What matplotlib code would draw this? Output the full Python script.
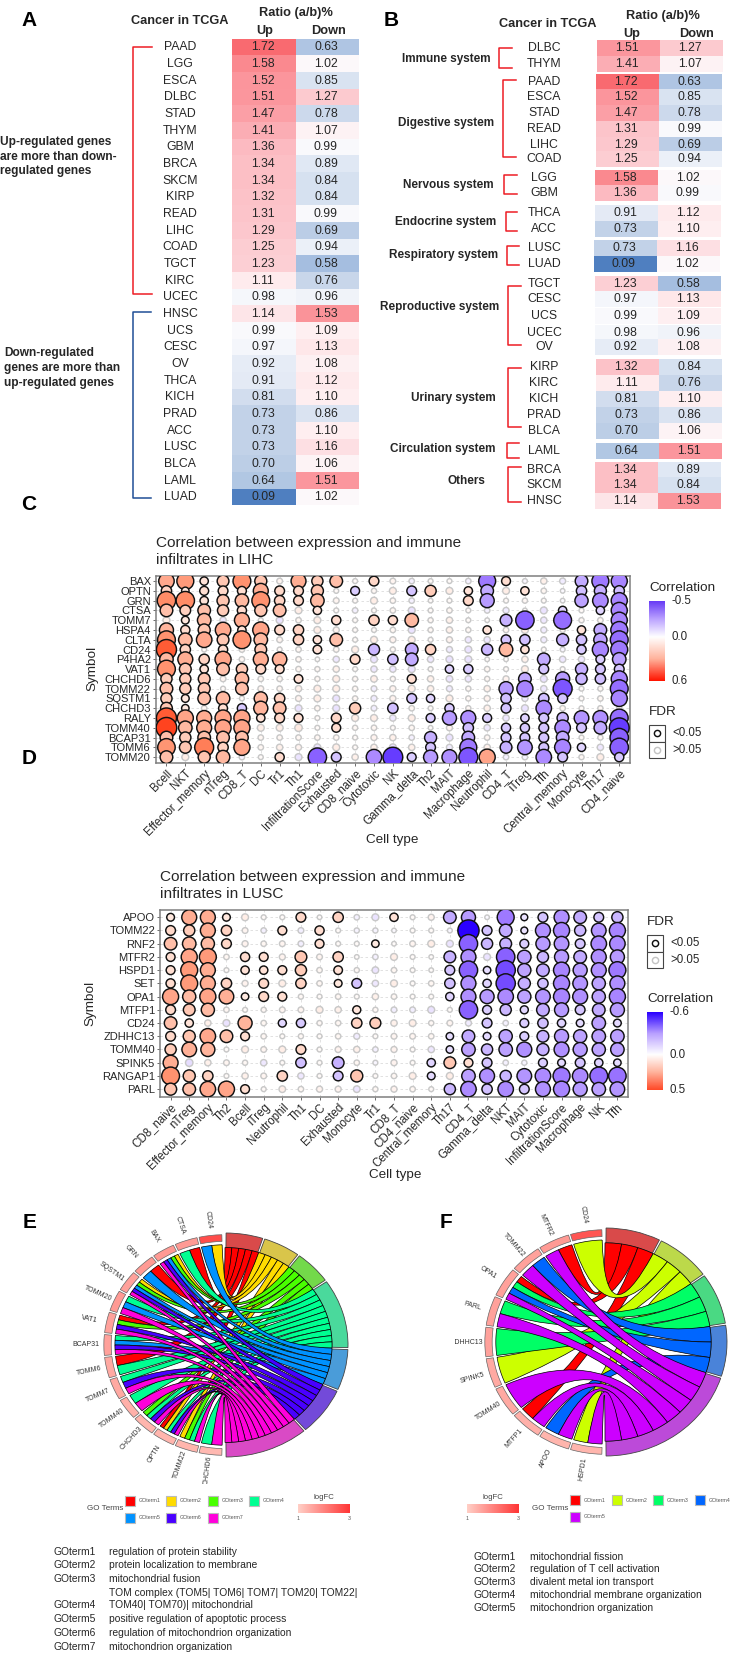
import numpy as np
import matplotlib
matplotlib.use("Agg")
import matplotlib.pyplot as plt
from matplotlib.colors import LinearSegmentedColormap, Normalize
from matplotlib.patches import PathPatch, Rectangle, Wedge
from matplotlib.path import Path

plt.rcParams['font.family'] = ['Liberation Sans', 'DejaVu Sans']

W, H = 733, 1653

# Panel A: ratio table
a_names = ["PAAD", "LGG", "ESCA", "DLBC", "STAD", "THYM", "GBM", "BRCA", "SKCM", "KIRP", "READ", "LIHC", "COAD", "TGCT",
           "KIRC", "UCEC", "HNSC", "UCS", "CESC", "OV", "THCA", "KICH", "PRAD", "ACC", "LUSC", "BLCA", "LAML", "LUAD"]
a_up = [1.72, 1.58, 1.52, 1.51, 1.47, 1.41, 1.36, 1.34, 1.34, 1.32, 1.31, 1.29, 1.25, 1.23,
        1.11, 0.98, 1.14, 0.99, 0.97, 0.92, 0.91, 0.81, 0.73, 0.73, 0.73, 0.70, 0.64, 0.09]
a_down = [0.63, 1.02, 0.85, 1.27, 0.78, 1.07, 0.99, 0.89, 0.84, 0.84, 0.99, 0.69, 0.94, 0.58,
          0.76, 0.96, 1.53, 1.09, 1.13, 1.08, 1.12, 1.10, 0.86, 1.10, 1.16, 1.06, 1.51, 1.02]

# Panel B: same table grouped by system
b_groups = ["Immune system", "Digestive system", "Nervous system", "Endocrine system", "Respiratory system",
            "Reproductive system", "Urinary system", "Circulation system", "Others"]
b_names = [["DLBC", "THYM"], ["PAAD", "ESCA", "STAD", "READ", "LIHC", "COAD"], ["LGG", "GBM"], ["THCA", "ACC"],
           ["LUSC", "LUAD"], ["TGCT", "CESC", "UCS", "UCEC", "OV"], ["KIRP", "KIRC", "KICH", "PRAD", "BLCA"],
           ["LAML"], ["BRCA", "SKCM", "HNSC"]]
b_up = [[1.51, 1.41], [1.72, 1.52, 1.47, 1.31, 1.29, 1.25], [1.58, 1.36], [0.91, 0.73], [0.73, 0.09],
        [1.23, 0.97, 0.99, 0.98, 0.92], [1.32, 1.11, 0.81, 0.73, 0.70], [0.64], [1.34, 1.34, 1.14]]
b_down = [[1.27, 1.07], [0.63, 0.85, 0.78, 0.99, 0.69, 0.94], [1.02, 0.99], [1.12, 1.10], [1.16, 1.02],
          [0.58, 1.13, 1.09, 0.96, 1.08], [0.84, 0.76, 1.10, 0.86, 1.06], [1.51], [0.89, 0.84, 1.53]]

# Panel C: LIHC immune correlation
c_rows = ["BAX", "OPTN", "GRN", "CTSA", "TOMM7", "HSPA4", "CLTA", "CD24", "P4HA2", "VAT1", "CHCHD6", "TOMM22", "SQSTM1",
          "CHCHD3", "RALY", "TOMM40", "BCAP31", "TOMM6", "TOMM20"]
c_cols = ["Bcell", "NKT", "Effector_memory", "nTreg", "CD8_T", "DC", "Tr1", "Th1", "InfiltrationScore", "Exhausted",
          "CD8_naive", "Cytotoxic", "NK", "Gamma_delta", "Th2", "MAIT", "Macrophage", "Neutrophil", "CD4_T", "iTreg",
          "Tfh", "Central_memory", "Monocyte", "Th17", "CD4_naive"]
c_corr = [
    [.40, .45, .15, .27, .48, .28, .06, .38, .25, .30, .03, .20, .06, -.05, .03, .03, -.05, -.45, .17, -.03, .08, -.07, -.30, -.45, -.42],
    [.22, .12, .17, .20, .17, .38, .20, .20, .28, .03, -.17, .04, .10, -.20, .25, .10, .15, -.30, .10, .15, .05, -.02, -.22, -.28, -.22],
    [.50, .50, .15, .28, .33, .48, .22, .20, .33, .06, .03, .10, .05, -.05, .02, .03, .20, -.35, .03, .04, .03, -.02, -.32, -.40, -.42],
    [.30, .23, .30, .25, .18, .28, .30, .10, .15, .03, -.05, .03, .05, -.10, .03, .05, .03, -.05, -.07, .02, -.10, -.15, .03, -.15, -.42],
    [.10, .13, .33, -.08, .38, .03, -.10, .05, .10, .18, .03, .22, .18, .33, .04, .08, .03, .02, -.27, -.50, -.08, -.48, .04, .05, -.42],
    [.35, .18, .28, .40, .15, .42, .20, .22, .10, .07, .03, .03, .05, -.10, .04, .08, .04, .15, .05, .10, -.07, .04, .15, -.30, -.45],
    [.48, .33, .40, .27, .48, .33, .06, .22, .15, .30, .03, .10, .07, .10, .03, .07, -.08, -.08, -.20, -.22, -.07, -.28, -.22, -.32, -.48],
    [.56, .22, .03, .18, .05, .27, .03, .05, .16, .05, .10, -.25, .04, -.30, .22, -.07, -.10, -.25, .33, .15, .03, -.03, -.18, -.42, -.45],
    [.33, .38, .22, .42, .05, .38, .36, .05, .02, -.08, .20, -.10, -.22, -.30, -.08, -.10, -.10, .02, .02, .08, -.30, -.08, -.08, -.17, -.33],
    [.48, .27, .15, .30, .25, .20, .17, .05, .04, .08, .03, -.08, -.08, -.10, .03, -.15, -.18, .05, .03, .10, -.20, .03, -.28, -.20, -.20],
    [.25, .25, .27, .06, .33, .05, .05, .16, .04, .10, .04, .09, .04, .17, .08, -.09, -.08, .04, .07, -.30, -.10, -.35, -.25, -.22, -.42],
    [.30, .25, .27, .03, .30, .06, .05, .08, .10, .10, .04, -.06, .07, .10, .08, -.07, .04, .08, -.35, -.42, -.08, -.52, .03, .04, -.48],
    [.25, .13, .30, .33, .03, .32, .22, .07, .10, -.10, .04, -.07, .07, -.20, -.15, .10, .04, .07, -.22, -.07, -.22, -.20, .03, .05, -.42],
    [.27, .12, .05, .17, -.18, .35, .30, -.10, .05, -.10, .25, -.06, -.22, .05, .03, -.18, .04, .08, -.20, -.10, -.40, .05, .03, .04, .05],
    [.56, .42, .38, .42, .42, .15, .20, .17, .03, .20, .10, .10, -.08, .10, -.17, -.35, -.38, -.17, -.08, -.15, -.20, -.25, -.37, -.38, -.48],
    [.58, .33, .38, .42, .42, .10, .10, .12, .03, .17, .04, .05, .03, .05, .02, .07, -.22, -.08, -.18, -.18, -.20, -.40, -.20, -.30, -.55],
    [.30, .25, .30, .30, .30, .05, .05, .05, .05, .05, .03, .07, .08, -.05, -.28, -.10, -.30, .05, -.20, -.20, -.20, -.30, .03, .04, -.50],
    [.47, .27, .52, .22, .42, .05, .08, .07, -.10, .10, .03, .08, -.10, .08, -.20, -.07, -.45, .08, -.27, -.37, -.20, -.42, -.15, -.08, -.50],
    [.30, .10, .28, .33, -.05, .03, .18, -.10, -.50, -.20, .08, -.40, -.55, -.17, -.35, -.38, -.52, .42, -.05, -.05, -.40, -.20, .04, .10, -.18],
]
c_sig = ["1111110111010000011000111", "1111111110100110110100111", "1111111110000000110000111", "1111111010000000000001011",
         "0110100001011100001101001", "1111111100000000010000111", "1111110111000000001101111", "1101010010010110011100111",
         "1111011000101100000010011", "1111111000000001100010111", "1110100100000100000101111", "1110100000000000001101001",
         "1111011000000110001011001", "1101111000101001001010000", "1111111101000011110111111", "1111100001000000101111111",
         "1111100000000010101111001", "1111100000000010101111101", "1011001011011111110011001"]

# Panel D: LUSC immune correlation
d_rows = ["APOO", "TOMM22", "RNF2", "MTFR2", "HSPD1", "SET", "OPA1", "MTFP1", "CD24", "ZDHHC13", "TOMM40", "SPINK5", "RANGAP1", "PARL"]
d_cols = ["CD8_naive", "nTreg", "Effector_memory", "Th2", "Bcell", "iTreg", "Neutrophil", "Th1", "DC", "Exhausted", "Monocyte",
          "Tr1", "CD8_T", "CD4_naive", "Central_memory", "Th17", "CD4_T", "Gamma_delta", "NKT", "MAIT", "Cytotoxic",
          "InfiltrationScore", "Macrophage", "NK", "Tfh"]
d_corr = [
    [.13, .38, .38, .13, .10, .03, .03, .20, .02, .22, -.05, -.10, .15, .03, .07, -.30, -.35, -.02, -.45, -.10, -.20, -.38, -.30, -.20, -.25],
    [.20, .25, .38, .22, .06, -.05, .17, -.06, .18, .03, -.04, -.04, -.02, .03, .03, -.03, -.60, -.20, -.30, -.10, -.38, -.42, -.25, -.37, -.42],
    [.30, .33, .32, .20, .07, .05, .06, -.06, .17, .03, .03, .12, .02, .06, .10, -.10, -.50, -.25, -.27, -.17, -.35, -.37, -.20, -.40, -.40],
    [.17, .42, .45, .05, .18, .17, .07, .27, .06, .22, .02, -.05, .10, .03, .02, -.27, -.38, -.10, -.50, -.33, -.25, -.35, -.30, -.38, -.35],
    [.17, .45, .38, .03, .15, .15, .17, .25, .05, .16, .04, -.09, .05, .03, .02, -.20, -.50, -.12, -.53, -.32, -.30, -.42, -.35, -.38, -.45],
    [.18, .45, .38, .22, .07, .20, .10, .22, .05, .13, -.20, -.08, .10, .03, .05, -.22, -.38, -.15, -.53, -.28, -.22, -.42, -.37, -.32, -.38],
    [.42, .32, .42, .37, .12, .20, .17, .04, .03, .05, .03, .08, .05, .03, .03, -.15, -.38, -.35, -.40, -.32, -.37, -.42, -.38, -.32, -.42],
    [.20, .27, .32, .05, .03, .04, .06, .06, .10, .08, .14, .04, -.06, -.06, -.10, .03, -.50, -.17, -.25, -.14, -.30, -.35, -.20, -.30, -.35],
    [.30, .15, .08, -.10, .35, .05, -.14, -.18, .04, .05, .22, .24, .08, .10, .04, .06, -.07, -.20, -.05, -.17, -.22, -.15, -.13, -.33, -.13],
    [.20, .28, .40, .30, .17, .05, .03, .04, .03, .05, -.07, .03, .06, .06, .05, -.12, -.30, -.13, -.32, -.17, -.27, -.35, -.32, -.33, -.33],
    [.25, .37, .35, .03, .10, .06, .10, .20, .03, .07, .08, -.05, .07, .03, -.08, -.12, -.33, -.25, -.33, -.38, -.28, -.38, -.35, -.32, -.33],
    [.38, -.12, .08, .06, .04, -.08, .03, -.22, .03, -.27, .05, -.03, .07, .03, -.15, .27, .17, -.20, -.05, -.04, -.17, -.13, -.20, -.15, -.12],
    [.48, .28, .22, .03, .08, .06, .22, -.08, .03, -.20, .28, .03, .05, .10, -.13, .10, -.33, -.38, -.25, -.37, -.40, -.45, -.40, -.48, -.47],
    [.28, .30, .40, .42, .17, .03, .09, .05, .07, .07, -.09, .04, .07, .05, .03, -.25, -.40, -.22, -.40, -.20, -.38, -.42, -.35, -.33, -.37],
]
d_sig = ["1111000101001001101111111", "1111001010000000111111111", "1111000010010000111111111", "1110110101000001101111111",
         "1110111101000001111111111", "1111010101100001111111111", "1111111000000001111111111", "1110000000100000111111111",
         "1100101100110000010111111", "1111100000000001111111111", "1110000100000001111111111", "1000000101000011110011111",
         "1110001001100010111111111", "1111100000000001111111111"]

# Panels E and F: GO chord membership, terms listed by number for each gene
e_genes = ["CD24", "CTSA", "BAX", "GRN", "SQSTM1", "TOMM20", "VAT1", "BCAP31", "TOMM6", "TOMM7", "TOMM40", "CHCHD3", "OPTN", "TOMM22", "CHCHD6"]
e_links = [[2, 5], [1, 4], [2, 3, 5, 6, 7], [1, 5], [2, 3, 5, 6, 7], [4, 5, 7], [1, 3, 6, 7], [4, 5, 6, 7],
           [1, 4], [4, 6, 7], [4, 7], [3, 4, 6, 7], [1, 2, 4, 6, 7], [2, 3, 4, 7], [4, 7]]
e_logfc = [2.7, 1.7, 1.7, 1.7, 1.6, 1.7, 1.6, 1.6, 1.5, 1.5, 1.4, 1.35, 1.35, 1.35, 1.3]
e_colors = ["#FF0000", "#FFDB00", "#49FF00", "#00FF92", "#0092FF", "#4900FF", "#FF00DB"]
e_terms = ["regulation of protein stability", "protein localization to membrane", "mitochondrial fusion",
           "TOM40| TOM70)| mitochondrial", "positive regulation of apoptotic process",
           "regulation of mitochondrion organization", "mitochondrion organization"]

f_genes = ["CD24", "MTFR2", "TOMM22", "OPA1", "PARL", "ZDHHC13", "SPINK5", "TOMM40", "MTFP1", "APOO", "HSPD1"]
f_links = [[2], [1, 5], [4, 5], [1, 3, 4, 5], [3, 5], [3], [2], [5], [1, 5], [4, 5], [2, 5]]
f_logfc = [2.6, 1.7, 1.6, 1.6, 1.6, 1.6, 1.5, 1.5, 1.4, 1.35, 1.35]
f_colors = ["#FF0000", "#CCFF00", "#00FF66", "#0066FF", "#CC00FF"]
f_terms = ["mitochondrial fission", "regulation of T cell activation", "divalent metal ion transport",
           "mitochondrial membrane organization", "mitochondrion organization"]

ratio_cmap = LinearSegmentedColormap.from_list("ratio", [
    ((v - 0.09) / 1.63, c) for v, c in [(0.09, "#4f7fc0"), (0.58, "#a6bfe0"), (0.73, "#c2d2e8"), (0.92, "#e6ecf6"),
                                        (1.0, "#fbfbfd"), (1.1, "#feeef0"), (1.23, "#fcd0d5"), (1.34, "#fcc0c6"),
                                        (1.47, "#fb9fa6"), (1.58, "#fa8a90"), (1.72, "#f96a70")]])
ratio_norm = Normalize(0.09, 1.72)

corr_cmap = LinearSegmentedColormap.from_list("corr", [
    ((v + 0.6) / 1.2, c) for v, c in [(-.6, "#2a00ff"), (-.55, "#6a40ff"), (-.48, "#9670ff"), (-.42, "#a885ff"), (-.32, "#bda4ff"),
                                      (-.2, "#d4c4ff"), (-.1, "#ebe3ff"), (0, "#ffffff"), (.1, "#ffeee7"), (.2, "#ffd8c9"),
                                      (.3, "#ffc0aa"), (.42, "#ffa488"), (.5, "#ff8d68"), (.56, "#ff5f38"), (.6, "#ff2a08")]])
corr_norm = Normalize(-0.6, 0.6)

fc_cmap = LinearSegmentedColormap.from_list("fc", ["#ffcfc6", "#ff3636"])


def px_axes(x0, y0, x1, y1):
    return fig.add_axes([x0 / W, 1 - y1 / H, (x1 - x0) / W, (y1 - y0) / H])


fig = plt.figure(figsize=(W / 100, H / 100), dpi=100)
page = fig.add_axes([0, 0, 1, 1], zorder=10)
page.set_xlim(0, W)
page.set_ylim(H, 0)
page.axis("off")

TXT = "#262626"


def label(x, y, s, size=8.8, weight="normal", ha="center", color=TXT, **kw):
    page.text(x, y, s, fontsize=size, fontweight=weight, ha=ha, va="center", color=color, **kw)


def bracket(x, tab, y0, y1, color="#ee1c25"):
    page.plot([tab, x, x, tab], [y0, y0, y1, y1], color=color, lw=1.1, solid_joinstyle="round")


for s, x, y in [("A", 29, 20), ("B", 391, 20), ("C", 29, 504), ("D", 29, 759), ("E", 30, 1222), ("F", 446, 1222)]:
    label(x, y, s, size=15, weight="bold", color="black")

# ---- A ----
a_ax = px_axes(232, 38.5, 359, 505.5)
a_ax.pcolormesh(np.array([a_up, a_down]).T, cmap=ratio_cmap, norm=ratio_norm)
a_ax.set_ylim(len(a_names), 0)
a_ax.axis("off")
for i, name in enumerate(a_names):
    y = 47.4 + i * 16.67
    label(180, y, name)
    label(263, y, f"{a_up[i]:.2f}")
    label(326, y, f"{a_down[i]:.2f}")
label(180, 21, "Cancer in TCGA", size=9.2, weight="bold")
label(296, 13, "Ratio (a/b)%", size=9.2, weight="bold")
label(265, 31, "Up", size=9.2, weight="bold")
label(328, 31, "Down", size=9.2, weight="bold")
bracket(133, 152, 47, 294)
bracket(133, 151, 312, 498, color="#1f4e96")
for y, s in zip([142, 156.5, 171], ["Up-regulated genes", "are more than down-", "regulated genes"]):
    label(0, y, s, size=8.6, weight="bold", ha="left")
for y, s in zip([353, 368, 383], ["Down-regulated", "genes are more than", "up-regulated genes"]):
    label(4, y, s, size=8.6, weight="bold", ha="left")

# ---- B ----
b_y = [[48.3, 64], [81.7, 97, 112.7, 129, 145, 159.3], [177.7, 193.3], [213.3, 229.3], [248.3, 264],
       [283.7, 299.3, 316, 332.7, 347], [366.7, 383.3, 398.7, 415.3, 431.3], [450.7], [470.3, 485, 501]]
b_left = [597, 596, 595, 595, 594, 595, 596, 596, 595]
b_label = [(446, 59), (446, 123), (448, 185), (446, 222), (444, 255), (440, 307), (453, 398), (443, 449), (466, 481)]
b_brack = [(499, 512, 48, 68), (503, 516, 80, 157), (504, 517, 175, 194), (506, 517, 212, 231), (507, 519, 246, 265),
           (508, 521, 286, 345), (508, 521, 368, 427), (507, 519, 443, 458), (508, 521, 467, 502)]
for g, group in enumerate(b_groups):
    label(b_label[g][0], b_label[g][1], group, size=8.5, weight="bold")
    bracket(*b_brack[g])
    for name, up, down, y in zip(b_names[g], b_up[g], b_down[g], b_y[g]):
        left = b_left[g]
        page.barh(y, 63, left=left, height=15.8, color=ratio_cmap(ratio_norm(up)), linewidth=0, zorder=0)
        page.barh(y, 63, left=left + 63, height=15.8, color=ratio_cmap(ratio_norm(down)), linewidth=0, zorder=0)
        label(544, y, name)
        label(left + 30, y, f"{up:.2f}")
        label(left + 93, y, f"{down:.2f}")
label(548, 24, "Cancer in TCGA", size=9.2, weight="bold")
label(663, 16, "Ratio (a/b)%", size=9.2, weight="bold")
label(632, 34, "Up", size=9.2, weight="bold")
label(696, 34, "Down", size=9.2, weight="bold")


# ---- C and D ----
def dot_panel(box, rows, cols, corr, sig):
    ax = px_axes(*box)
    corr = np.array(corr)
    sig = np.array([[ch == "1" for ch in r] for r in sig])
    xx, yy = np.meshgrid(np.arange(len(cols)), np.arange(len(rows)))
    ax.set_axisbelow(True)
    ax.grid(True, ls=(0, (3, 3)), color="#dcdcdc", lw=0.6)
    radius = (6 + 43 * np.abs(corr)) / 3
    sizes = (2 * radius * 0.72) ** 2
    ax.scatter(xx[~sig], yy[~sig], s=sizes[~sig], c=corr[~sig], cmap=corr_cmap, norm=corr_norm, edgecolors="#c8c8c8", linewidths=1.05)
    for i in range(len(rows)):
        m = sig[i]
        ax.scatter(xx[i][m], yy[i][m], s=sizes[i][m], c=corr[i][m], cmap=corr_cmap, norm=corr_norm,
                   edgecolors="#111111", linewidths=1.05, zorder=3)
    ax.set_xlim(-0.57, len(cols) - 1 + 0.57)
    ax.set_ylim(len(rows) - 1 + 0.57, -0.55)
    ax.set_xticks(range(len(cols)))
    ax.set_yticks(range(len(rows)))
    ax.set_xticklabels(cols, rotation=45, ha="right", va="top", rotation_mode="anchor", fontsize=8.3, color=TXT)
    ax.set_yticklabels(rows, fontsize=8, color=TXT)
    ax.tick_params(length=2, width=0.6, color="#555555", pad=1.5)
    for sp in ax.spines.values():
        sp.set_color("#7f7f7f")
        sp.set_linewidth(1.1)
    ax.patch.set_alpha(0)
    return ax


dot_panel((155.7, 575.7, 630, 762.7), c_rows, c_cols, c_corr, c_sig)
dot_panel((160, 910, 628, 1096.7), d_rows, d_cols, d_corr, d_sig)

for x, y, l2 in [(155.7, 543, "infiltrates in LIHC"), (160, 877, "infiltrates in LUSC")]:
    label(x, y, "Correlation between expression and immune", size=11.1, ha="left")
    label(x, y + 17.5, l2, size=11.1, ha="left")
label(92, 668, "Symbol", size=9.7, rotation=90)
label(392, 840, "Cell type", size=9.7)
label(90, 1003, "Symbol", size=9.7, rotation=90)
label(395, 1175, "Cell type", size=9.7)


def corr_legend(x, title_y, y0, y1, low, high, low_color, high_color):
    label(x, title_y, "Correlation", size=9.7, ha="left")
    ax = px_axes(x, y0, x + 16, y1)
    mid = -low / (high - low)
    grad = LinearSegmentedColormap.from_list("g", [(0, low_color), (mid / 2, "#b9a0ff"), (mid, "#ffffff"),
                                                   ((mid + 1) / 2, "#ffb39c"), (1, high_color)])
    ax.imshow(np.linspace(0, 1, 200)[:, None], aspect="auto", cmap=grad)
    ax.axis("off")
    for v in [low, 0, high]:
        label(x + 22, y0 + (y1 - y0) * (v - low) / (high - low), f"{v:.1f}", size=8.3, ha="left")


def fdr_legend(x, title_y, y0):
    label(x, title_y, "FDR", size=9.7, ha="left")
    for k, (s, ec, lw) in enumerate([("<0.05", "#111111", 1.05), (">0.05", "#c4c4c4", 1.05)]):
        page.add_patch(Rectangle((x, y0 + k * 16.5), 16, 16.5, fc="white", ec="#444444", lw=0.8))
        page.scatter([x + 8], [y0 + 8.25 + k * 16.5], s=20, fc="white", ec=ec, lw=lw, zorder=3)
        label(x + 23, y0 + 8.25 + k * 16.5, s, size=8.3, ha="left")


corr_legend(649, 588, 601, 681, -0.5, 0.6, "#6436f5", "#ff1400")
fdr_legend(649, 712, 725)
fdr_legend(647, 922, 935)
corr_legend(647, 999, 1012, 1090, -0.6, 0.5, "#2a00ff", "#ff4a28")


# ---- E and F ----
def arc(r, a0, a1, n=12):
    t = np.radians(np.linspace(a0, a1, n))
    return np.c_[r * np.cos(t), r * np.sin(t)]


def chord(box, cx, cy, rx, ry, genes, links, colors, logfc):
    x0, y0, x1, y1 = box
    ax = px_axes(x0, y0, x1, y1)
    ax.set_xlim((x0 - cx) / rx, (x1 - cx) / rx)
    ax.set_ylim((cy - y1) / ry, (cy - y0) / ry)
    ax.axis("off")
    counts = [sum(t + 1 in g for g in links) for t in range(len(colors))]
    unit = 180 / sum(counts)
    starts = 90 - np.r_[0, np.cumsum(counts)] * unit
    for t, c in enumerate(colors):
        rgb = np.array(matplotlib.colors.to_rgb(c)) * 0.56 + 0.29
        ax.add_patch(Wedge((0, 0), 1, starts[t + 1] + 0.5, starts[t] - 0.5, width=0.13, fc=rgb, ec="#444444", lw=0.6))
    edges = np.linspace(91, 269, len(genes) + 1)
    ribbons = []
    used = [0] * len(colors)
    for i, (gene, terms) in enumerate(zip(genes, links)):
        a0, a1 = edges[i] + 0.5, edges[i + 1] - 0.5
        ax.add_patch(Wedge((0, 0), 0.985, a0, a1, width=0.06, fc=fc_cmap((logfc[i] - 1) / 2), ec="#666666", lw=0.5))
        mid = (a0 + a1) / 2
        ax.text(1.13 * np.cos(np.radians(mid)), 1.13 * np.sin(np.radians(mid)), gene, fontsize=5, color="#333333",
                rotation=mid - 180, rotation_mode="anchor", ha="center", va="center", clip_on=True)
        step = (a1 - a0) / len(terms)
        for k, term in enumerate(terms):
            t = term - 1
            ribbons.append((t, a0 + k * step, a0 + (k + 1) * step, starts[t] - used[t] * unit, starts[t] - (used[t] + 1) * unit))
            used[t] += 1
    for t, g0, g1, t0, t1 in sorted(ribbons, key=lambda r: r[0]):
        head = arc(0.895, g0, g1)
        tail = arc(0.87, t1, t0)
        verts = np.r_[head, [[0, 0]], tail, [[0, 0]], head[:1]]
        codes = [Path.MOVETO] + [Path.LINETO] * (len(head) - 1) + [Path.CURVE3, Path.CURVE3] + \
                [Path.LINETO] * (len(tail) - 1) + [Path.CURVE3, Path.CURVE3]
        ax.add_patch(PathPatch(Path(verts, codes), fc=colors[t], ec="black", lw=0.5))


chord((60, 1205, 352, 1484), 225, 1345, 123, 112, e_genes, e_links, e_colors, e_logfc)
chord((455, 1205, 733, 1484), 605, 1342, 122, 114, f_genes, f_links, f_colors, f_logfc)


def go_legend(colors, xs, rows, label_x, fc_x):
    label(label_x, 1509, "GO Terms", size=5.8, ha="left", color="#444444")
    for t, c in enumerate(colors):
        x = xs[t % 4]
        y = rows[t // 4]
        page.add_patch(Rectangle((x - 5, y - 5), 10, 10, fc=c, ec="#bbbbbb", lw=0.8))
        label(x + 9, y, f"GOterm{t + 1}", size=3.8, ha="left", color="#555555")
    ax = px_axes(fc_x, 1504, fc_x + 52, 1513)
    ax.imshow(np.linspace(0, 1, 100)[None, :], aspect="auto", cmap=fc_cmap)
    ax.axis("off")
    label(fc_x + 26, 1497.5, "logFC", size=5.6, color="#444444")
    label(fc_x, 1519, "1", size=3.8, color="#555555")
    label(fc_x + 51, 1519, "3", size=3.8, color="#555555")


go_legend(e_colors, [130, 171, 212.6, 254], [1501, 1517.7], 87, 298)
go_legend(f_colors, [575, 617, 658, 700], [1500, 1517], 532, 467)

e_rows = [1551.7, 1565, 1579, 1605, 1619, 1633, 1647]
for t, (y, s) in enumerate(zip(e_rows, e_terms)):
    label(53, y, f"GOterm{t + 1}", size=7.4, ha="left")
    label(109, y, s, size=7.4, ha="left")
label(109, 1592.7, "TOM complex (TOM5| TOM6| TOM7| TOM20| TOM22|", size=7.4, ha="left")
f_rows = [1556.7, 1569, 1582, 1595, 1607.7]
for t, (y, s) in enumerate(zip(f_rows, f_terms)):
    label(473, y, f"GOterm{t + 1}", size=7.4, ha="left")
    label(529.5, y, s, size=7.4, ha="left")

fig.savefig("out.png", dpi=100)
